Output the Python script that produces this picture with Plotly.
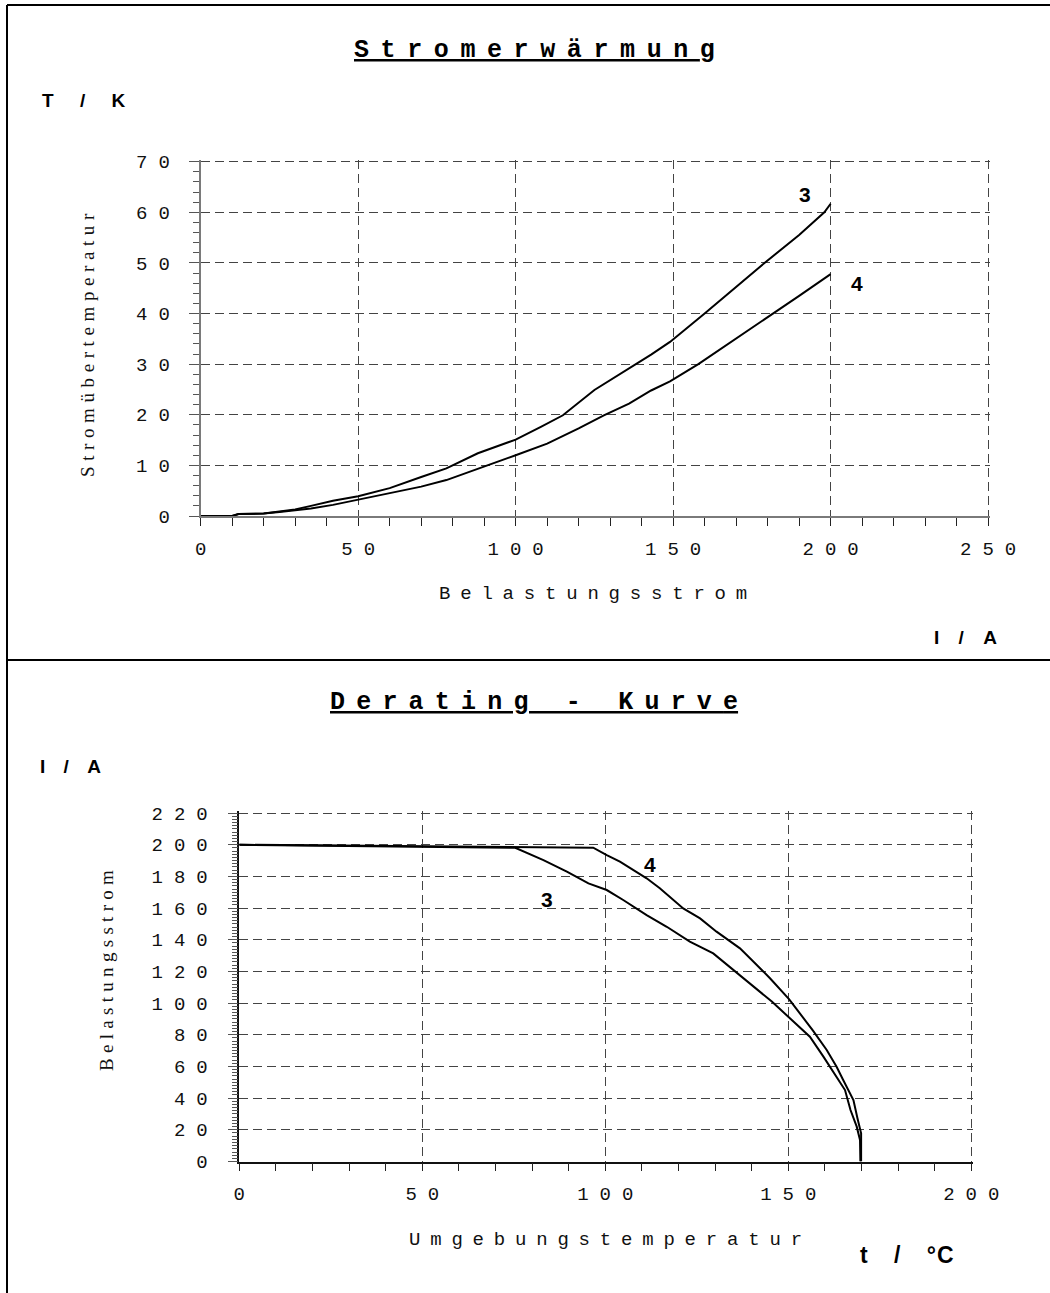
import plotly.graph_objects as go

# ---------------- data ----------------
# Chart 1: Stromerwärmung (temperature rise vs. load current)
strom_I3 = [0, 10, 12, 20, 25, 30, 35, 42, 50, 60, 70, 78, 88, 100, 108, 115, 125, 138, 143, 149, 160, 179, 190, 198, 200]
strom_T3 = [0, 0, 0.4, 0.5, 0.9, 1.3, 2.0, 3.0, 3.9, 5.5, 7.7, 9.4, 12.4, 15.1, 17.6, 19.9, 24.9, 29.9, 31.9, 34.4, 40, 50, 55.5, 60, 61.7]
strom_I4 = [0, 10, 12, 20, 25, 30, 35, 42, 50, 60, 70, 78, 88, 100, 110, 120, 128, 136, 143, 149, 158, 170, 182, 190, 200]
strom_T4 = [0, 0, 0.4, 0.5, 0.8, 1.1, 1.5, 2.2, 3.2, 4.5, 5.8, 7.1, 9.3, 12.0, 14.3, 17.3, 19.9, 22.2, 24.8, 26.6, 30, 35, 40, 43.5, 47.8]

# Chart 2: Derating - Kurve (load current vs. ambient temperature)
der_t3 = [0, 75.4, 83.1, 89.5, 95.4, 100.4, 104.9, 111.3, 116.8, 123.1, 129.5, 135.0, 140.4, 145.5, 150,
          155.9, 159.6, 162.8, 165.5, 167.0, 168.7, 169.6, 169.7]
der_I3 = [200, 198.1, 190.3, 183.0, 175.6, 171.4, 165.1, 155.6, 148.2, 138.8, 131.4, 120.9, 110.4, 101, 91.4,
          78.8, 66.2, 54.6, 45.1, 32.5, 22.0, 13.6, 0]
der_t4 = [0, 96.7, 100.4, 104.0, 111.3, 114.9, 121.3, 125.9, 130.4, 136.8, 141.4, 145.0, 150.2, 156.8, 160.5,
          163.2, 165.0, 167.8, 168.9, 169.9, 169.9]
der_I4 = [200, 198.1, 193.5, 189.3, 178.8, 172.5, 159.8, 153.5, 145.1, 134.6, 124.1, 115.7, 102.5, 82.5, 70.4,
          59.8, 51.5, 38.8, 27.3, 17.8, 0]

top_xticks = [0, 50, 100, 150, 200, 250]
top_yticks = [0, 10, 20, 30, 40, 50, 60, 70]
bot_xticks = [0, 50, 100, 150, 200]
bot_yticks = [0, 20, 40, 60, 80, 100, 120, 140, 160, 180, 200, 220]

# ---------------- styling helpers ----------------
W, H = 1050, 1293
MONO = "Liberation Mono"
SERIF = "Liberation Serif"
SANS = "Liberation Sans"
LS_TICK = 11    # letter spacing for tick labels
LS_TITLE = 9.8  # letter spacing for axis titles


def sp(text, ls, extra=""):
    """letter-spaced text without trailing spacing after the last glyph"""
    if len(text) < 2:
        return f'<span style="{extra}">{text}</span>' if extra else text
    return (f'<span style="letter-spacing:{ls}px;{extra}">{text[:-1]}</span>'
            + (f'<span style="{extra}">{text[-1]}</span>' if extra else text[-1]))


def pxx(p):
    return p / W


def pxy(p):
    return 1 - p / H


tickfont = dict(family=MONO, size=19, color="#111")
grid = dict(showgrid=True, gridcolor="#444", gridwidth=1, griddash="9px,5px", zeroline=False,
            automargin=False)

fig = go.Figure()
line = dict(color="black", width=2)
fig.add_trace(go.Scatter(x=strom_I3, y=strom_T3, mode="lines", line=line, xaxis="x", yaxis="y",
                         showlegend=False, hoverinfo="skip"))
fig.add_trace(go.Scatter(x=strom_I4, y=strom_T4, mode="lines", line=line, xaxis="x", yaxis="y",
                         showlegend=False, hoverinfo="skip"))
fig.add_trace(go.Scatter(x=der_t3, y=der_I3, mode="lines", line=line, xaxis="x2", yaxis="y2",
                         showlegend=False, hoverinfo="skip"))
fig.add_trace(go.Scatter(x=der_t4, y=der_I4, mode="lines", line=line, xaxis="x2", yaxis="y2",
                         showlegend=False, hoverinfo="skip"))

# ranges slightly extended so the dashed boundary grid lines are drawn
fig.update_layout(
    width=W, height=H,
    margin=dict(l=0, r=0, t=0, b=0, pad=0, autoexpand=False),
    showlegend=False,
    paper_bgcolor="white", plot_bgcolor="white",
    xaxis=dict(domain=[pxx(200.7), pxx(990)], range=[0, 250.6], anchor="y",
               tickvals=top_xticks, ticktext=[sp(str(v), LS_TICK) for v in top_xticks],
               tickfont=tickfont, showline=True, linecolor="#7a7a7a", linewidth=2,
               ticks="outside", ticklen=8, tickcolor="#222", tickwidth=1,
               minor=dict(dtick=10, ticks="outside", ticklen=8, tickcolor="#222", showgrid=False),
               ticklabelstandoff=6, **grid),
    yaxis=dict(domain=[pxy(516), pxy(159.7)], range=[0, 70.4], anchor="x",
               tickvals=top_yticks, ticktext=[sp(str(v), LS_TICK) for v in top_yticks],
               tickfont=tickfont, showline=True, linecolor="#7a7a7a", linewidth=2,
               ticks="outside", ticklen=10, tickcolor="#555", tickwidth=1,
               minor=dict(dtick=2, ticks="outside", ticklen=6, tickcolor="#555", showgrid=False),
               ticklabelstandoff=15, **grid),
    xaxis2=dict(domain=[pxx(239.3), pxx(973.1)], range=[0, 200.5], anchor="y2",
                tickvals=bot_xticks, ticktext=[sp(str(v), LS_TICK) for v in bot_xticks],
                tickfont=tickfont, showline=True, linecolor="#111", linewidth=1.5,
                ticks="outside", ticklen=8, tickcolor="#222", tickwidth=1,
                minor=dict(dtick=10, ticks="outside", ticklen=8, tickcolor="#222", showgrid=False),
                ticklabelstandoff=6, **grid),
    yaxis2=dict(domain=[pxy(1161.5), pxy(811)], range=[0, 221.3], anchor="x2",
                tickvals=bot_yticks, ticktext=[sp(str(v), LS_TICK) for v in bot_yticks],
                tickfont=tickfont, showline=True, linecolor="#111", linewidth=1.5,
                ticks="outside", ticklen=10, tickcolor="#555", tickwidth=1,
                minor=dict(dtick=2, ticks="outside", ticklen=6, tickcolor="#555", showgrid=False),
                ticklabelstandoff=16, **grid),
)

ann = []


def add_paper(text, x, y, font, xanchor="center", yanchor="middle", textangle=0, xshift=0):
    ann.append(dict(text=text, x=pxx(x), y=pxy(y), xref="paper", yref="paper", showarrow=False,
                    font=font, xanchor=xanchor, yanchor=yanchor, textangle=textangle, xshift=xshift))


title_font = dict(family=MONO, size=25, color="black")
add_paper('<b>' + sp("Stromerwärmung", 11.6, "text-decoration:underline") + '</b>', 534, 50, title_font)
add_paper('<b>' + sp("Derating - Kurve", 11.2, "text-decoration:underline") + '</b>', 534, 703, title_font)

bold_font = dict(family=SANS, size=19, color="black")
add_paper('<b>' + sp("T / K", 10.5) + '</b>', 40, 101, bold_font, xanchor="left")
add_paper('<b>' + sp("I / A", 7) + '</b>', 932, 637, bold_font, xanchor="left")
add_paper('<b>' + sp("I / A", 6.5) + '</b>', 38, 766, bold_font, xanchor="left")
add_paper('<b><span style="letter-spacing:10px">t / </span><span style="letter-spacing:1px">°C</span></b>',
          858, 1255, dict(family=SANS, size=23, color="black"), xanchor="left")

axt_font = dict(family=MONO, size=19, color="#111")
add_paper(sp("Belastungsstrom", LS_TITLE), 593, 594, axt_font)
add_paper(sp("Umgebungstemperatur", LS_TITLE), 605, 1240, axt_font)
yt_font = dict(family=SERIF, size=19, color="#111")
add_paper(sp("Stromübertemperatur", 5.6), 88, 345, yt_font, textangle=-90)
add_paper(sp("Belastungsstrom", 5.3), 106, 971, yt_font, textangle=-90)

num_font = dict(family=SANS, size=21, color="black")
for txt, x, y, xr, yr in [("3", 192, 63.5, "x", "y"), ("4", 208.5, 46, "x", "y"),
                          ("3", 84, 165.5, "x2", "y2"), ("4", 112.3, 187.5, "x2", "y2")]:
    ann.append(dict(text=f"<b>{txt}</b>", x=x, y=y, xref=xr, yref=yr, showarrow=False,
                    font=num_font, xanchor="center", yanchor="middle"))

fig.update_layout(annotations=ann)

# frame lines of the sheet
frame = dict(color="black", width=2)
fig.update_layout(shapes=[
    dict(type="line", xref="paper", yref="paper", x0=pxx(7), x1=1, y0=pxy(5), y1=pxy(5), line=frame),
    dict(type="line", xref="paper", yref="paper", x0=pxx(7), x1=pxx(7), y0=pxy(5), y1=0, line=frame),
    dict(type="line", xref="paper", yref="paper", x0=pxx(7), x1=1, y0=pxy(660), y1=pxy(660), line=frame),
])

fig.write_html("out.html", config={"displayModeBar": False},
               post_script="document.body.style.margin='0';document.documentElement.style.overflow='hidden';")
